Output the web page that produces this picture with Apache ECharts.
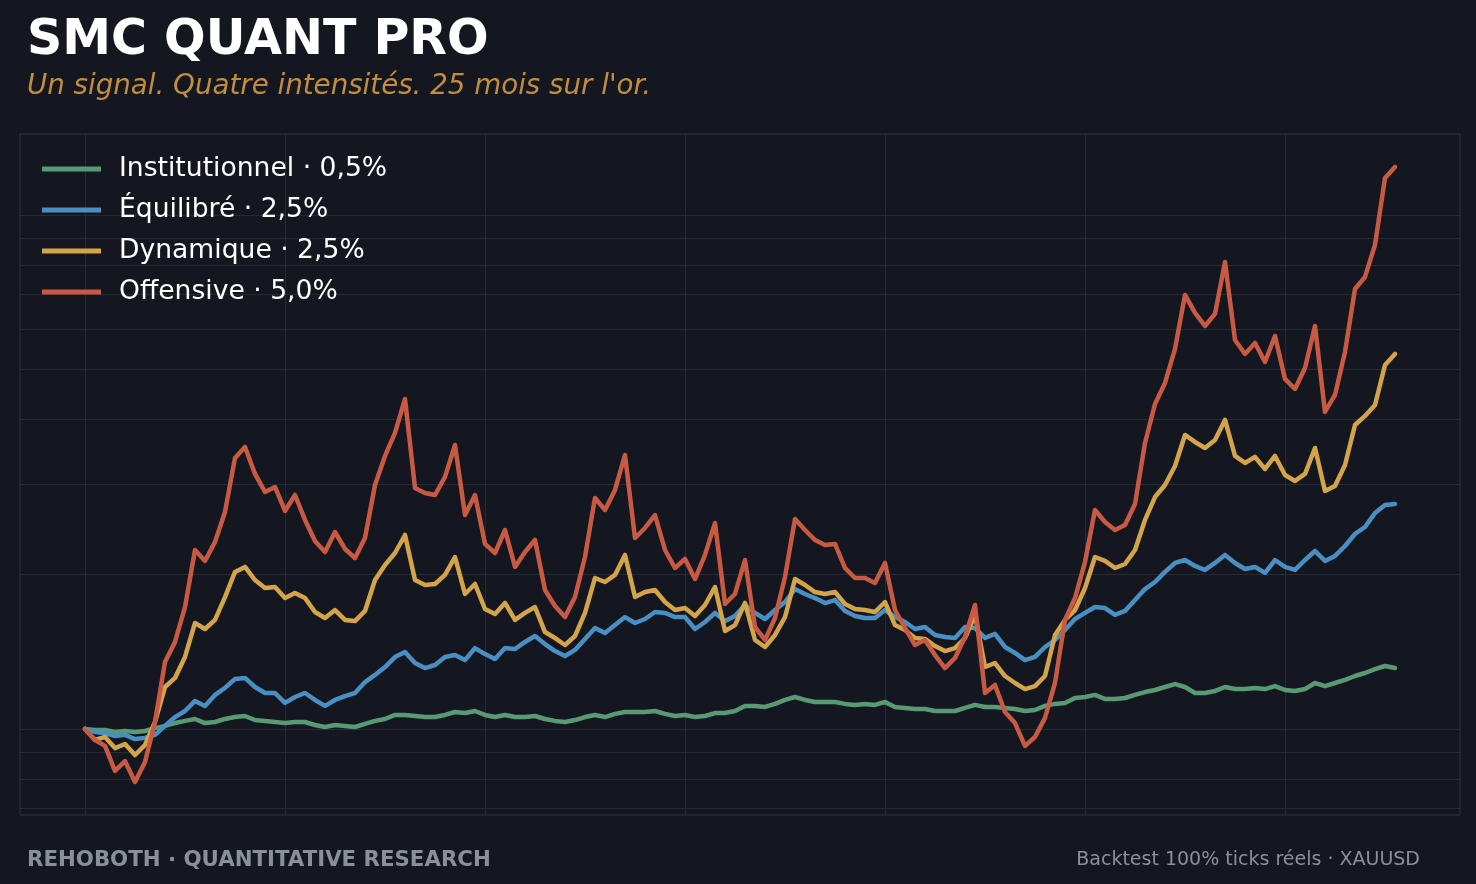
<!DOCTYPE html>
<html>
<head>
<meta charset="utf-8">
<title>SMC QUANT PRO</title>
<script src="https://cdn.jsdelivr.net/npm/echarts@6/dist/echarts.min.js"></script>
<style>
    html, body { margin: 0; padding: 0; background: #14171f; }
    #chart1 { width: 1476px; height: 884px; }
</style>
</head>
<body>
<div id="chart1"></div>
<script>
// capital (multiple du depart), un point tous les ~5 jours de bourse
var names = ['Institutionnel · 0,5%', 'Équilibré · 2,5%', 'Dynamique · 2,5%', 'Offensive · 5,0%'];
var colors = ['#579a74', '#4a8fc4', '#d4a44a', '#c85a44'];

var institutionnel = [
    1.000, 0.996, 0.996, 0.987, 0.991, 0.987, 0.991, 1.004, 1.014, 1.027,
    1.037, 1.046, 1.027, 1.032, 1.046, 1.055, 1.060, 1.041, 1.037, 1.032,
    1.027, 1.032, 1.032, 1.018, 1.009, 1.018, 1.014, 1.009, 1.023, 1.037,
    1.046, 1.065, 1.065, 1.060, 1.055, 1.055, 1.065, 1.079, 1.074, 1.084,
    1.065, 1.055, 1.065, 1.055, 1.055, 1.060, 1.046, 1.037, 1.032, 1.041,
    1.055, 1.065, 1.055, 1.070, 1.079, 1.079, 1.079, 1.084, 1.070, 1.060,
    1.065, 1.055, 1.060, 1.074, 1.074, 1.084, 1.109, 1.109, 1.104, 1.119,
    1.139, 1.154, 1.139, 1.129, 1.129, 1.129, 1.119, 1.114, 1.119, 1.114,
    1.129, 1.104, 1.099, 1.094, 1.094, 1.084, 1.084, 1.084, 1.099, 1.114,
    1.104, 1.104, 1.099, 1.094, 1.084, 1.089, 1.109, 1.119, 1.124, 1.149,
    1.154, 1.165, 1.144, 1.144, 1.149, 1.165, 1.180, 1.191, 1.207, 1.223,
    1.207, 1.175, 1.175, 1.186, 1.207, 1.196, 1.196, 1.202, 1.196, 1.212,
    1.191, 1.186, 1.196, 1.229, 1.212, 1.229, 1.246, 1.268, 1.285, 1.308,
    1.326, 1.314
];
var equilibre = [
    1.000, 0.987, 0.982, 0.969, 0.974, 0.956, 0.961, 0.974, 1.014, 1.055,
    1.084, 1.134, 1.109, 1.165, 1.202, 1.251, 1.257, 1.207, 1.175, 1.175,
    1.124, 1.154, 1.175, 1.139, 1.109, 1.139, 1.159, 1.175, 1.234, 1.274,
    1.320, 1.380, 1.412, 1.344, 1.314, 1.332, 1.381, 1.393, 1.362, 1.437,
    1.399, 1.368, 1.437, 1.431, 1.477, 1.517, 1.463, 1.418, 1.387, 1.425,
    1.497, 1.572, 1.537, 1.593, 1.651, 1.608, 1.637, 1.689, 1.682, 1.651,
    1.651, 1.565, 1.615, 1.682, 1.622, 1.659, 1.743, 1.682, 1.637, 1.704,
    1.766, 1.872, 1.831, 1.798, 1.758, 1.782, 1.697, 1.659, 1.644, 1.644,
    1.704, 1.651, 1.615, 1.565, 1.579, 1.524, 1.510, 1.504, 1.579, 1.572,
    1.504, 1.531, 1.444, 1.406, 1.362, 1.381, 1.444, 1.490, 1.558, 1.637,
    1.682, 1.727, 1.719, 1.667, 1.697, 1.782, 1.872, 1.932, 2.021, 2.104,
    2.132, 2.076, 2.039, 2.104, 2.181, 2.104, 2.048, 2.067, 2.012, 2.132,
    2.067, 2.039, 2.132, 2.220, 2.123, 2.171, 2.270, 2.396, 2.472, 2.632,
    2.728, 2.740
];
var dynamique = [
    1.000, 0.952, 0.965, 0.918, 0.935, 0.890, 0.931, 1.032, 1.207, 1.257,
    1.381, 1.608, 1.565, 1.630, 1.806, 2.021, 2.067, 1.949, 1.881, 1.889,
    1.798, 1.839, 1.798, 1.689, 1.644, 1.704, 1.630, 1.622, 1.697, 1.949,
    2.085, 2.200, 2.385, 1.949, 1.906, 1.915, 1.994, 2.161, 1.831, 1.915,
    1.712, 1.674, 1.759, 1.630, 1.682, 1.727, 1.544, 1.503, 1.457, 1.517,
    1.682, 1.967, 1.932, 1.994, 2.181, 1.806, 1.847, 1.864, 1.766, 1.704,
    1.720, 1.659, 1.743, 1.889, 1.551, 1.593, 1.759, 1.490, 1.444, 1.524,
    1.651, 1.958, 1.906, 1.847, 1.831, 1.847, 1.751, 1.712, 1.704, 1.689,
    1.766, 1.593, 1.558, 1.503, 1.497, 1.450, 1.418, 1.437, 1.503, 1.667,
    1.320, 1.344, 1.268, 1.229, 1.196, 1.212, 1.268, 1.524, 1.630, 1.704,
    1.881, 2.161, 2.123, 2.057, 2.094, 2.230, 2.551, 2.827, 2.984, 3.249,
    3.733, 3.618, 3.522, 3.650, 3.993, 3.398, 3.293, 3.383, 3.206, 3.398,
    3.120, 3.038, 3.135, 3.522, 2.905, 2.971, 3.263, 3.904, 4.065, 4.270,
    5.108, 5.366
];
var offensive = [
    1.000, 0.952, 0.927, 0.829, 0.866, 0.789, 0.863, 1.032, 1.350, 1.477,
    1.727, 2.230, 2.123, 2.312, 2.644, 3.368, 3.538, 3.135, 2.892, 2.957,
    2.656, 2.853, 2.551, 2.322, 2.210, 2.417, 2.240, 2.151, 2.353, 2.984,
    3.398, 3.767, 4.386, 2.944, 2.879, 2.853, 3.093, 3.569, 2.608, 2.853,
    2.291, 2.200, 2.439, 2.067, 2.210, 2.332, 1.864, 1.735, 1.651, 1.806,
    2.161, 2.815, 2.668, 2.918, 3.413, 2.353, 2.461, 2.608, 2.230, 2.057,
    2.142, 1.958, 2.181, 2.517, 1.751, 1.831, 2.132, 1.579, 1.490, 1.644,
    1.976, 2.562, 2.439, 2.332, 2.281, 2.291, 2.057, 1.967, 1.967, 1.923,
    2.104, 1.704, 1.572, 1.457, 1.490, 1.393, 1.314, 1.375, 1.510, 1.743,
    1.175, 1.218, 1.079, 1.027, 0.927, 0.965, 1.051, 1.229, 1.630, 1.798,
    2.113, 2.668, 2.528, 2.439, 2.494, 2.740, 3.602, 4.289, 4.712, 5.488,
    6.990, 6.448, 6.083, 6.420, 8.104, 5.713, 5.366, 5.637, 5.177, 5.817,
    4.798, 4.587, 5.040, 6.083, 4.138, 4.466, 5.415, 7.180, 7.577, 8.745,
    11.807, 12.404
];

var gridX = [0, 20, 40, 60, 80, 100, 120];                     // repères verticaux, sans étiquette
var gridY = [0.7, 0.8, 0.9, 1, 2, 3, 4, 5, 6, 7, 8, 9, 10];     // échelle log

window.onload = function () {
    myChart1Init();
};

// axe y en log10 : on passe les multiples en log
function toPoints(list) {
    var out = [];
    for (var i = 0; i < list.length; i++) {
        out.push([i, Math.log10(list[i])]);
    }
    return out;
}

function makeSeries(name, color, list) {
    return {
        name: name,
        type: 'line',
        symbol: 'none',
        animation: false,
        lineStyle: {width: 4.5, color: color, join: 'round', cap: 'round'},
        itemStyle: {color: color},
        emphasis: {disabled: true},
        data: toPoints(list)
    };
}

function myChart1Init() {
    var myChart1 = echarts.init(document.getElementById('chart1'));
    var font = 'DejaVu Sans';
    var logY = gridY.map(function (v) { return Math.log10(v); });

    var option1 = {
        backgroundColor: '#14171f',
        animation: false,
        title: [
            {
                text: 'SMC QUANT PRO', left: 22, top: 12,
                textStyle: {color: '#ffffff', fontSize: 49, fontWeight: 'bold', fontFamily: font}
            },
            {
                text: "Un signal. Quatre intensités. 25 mois sur l'or.", left: 22, top: 68,
                textStyle: {color: '#c38d3e', fontSize: 27.7, fontStyle: 'italic', fontWeight: 'normal', fontFamily: font}
            },
            {
                text: 'REHOBOTH · QUANTITATIVE RESEARCH', left: 22, top: 845,
                textStyle: {color: '#8a909b', fontSize: 21.3, fontWeight: 'bold', fontFamily: font}
            },
            {
                text: 'Backtest 100% ticks réels · XAUUSD', right: 51, top: 846,
                textStyle: {color: '#8a909b', fontSize: 19, fontWeight: 'normal', fontFamily: font}
            }
        ],
        legend: {
            orient: 'vertical',
            left: 37,
            top: 149,
            icon: 'rect',
            itemWidth: 59,
            itemHeight: 5,
            itemGap: 11,
            selectedMode: false,
            textStyle: {color: '#ffffff', fontSize: 26.6, fontFamily: font, lineHeight: 30, padding: [0, 0, 0, 13]},
            data: names
        },
        grid: {
            left: 20, top: 134, width: 1440, height: 681,
            show: true, borderColor: '#30343c', borderWidth: 1, backgroundColor: 'transparent'
        },
        xAxis: {
            type: 'value',
            min: -6.5,
            max: 137.5,
            axisLine: {show: false},
            axisTick: {show: false, customValues: gridX},
            axisLabel: {show: false, customValues: gridX},
            splitLine: {show: true, lineStyle: {color: '#262a32', width: 1}}
        },
        yAxis: {
            type: 'value',
            min: -0.1673,
            max: 1.1576,
            axisLine: {show: false},
            axisTick: {show: false, customValues: logY},
            axisLabel: {show: false, customValues: logY},
            splitLine: {show: true, lineStyle: {color: '#262a32', width: 1}}
        },
        series: [
            makeSeries(names[0], colors[0], institutionnel),
            makeSeries(names[1], colors[1], equilibre),
            makeSeries(names[2], colors[2], dynamique),
            makeSeries(names[3], colors[3], offensive)
        ]
    };

    myChart1.setOption(option1);
}
</script>
</body>
</html>
